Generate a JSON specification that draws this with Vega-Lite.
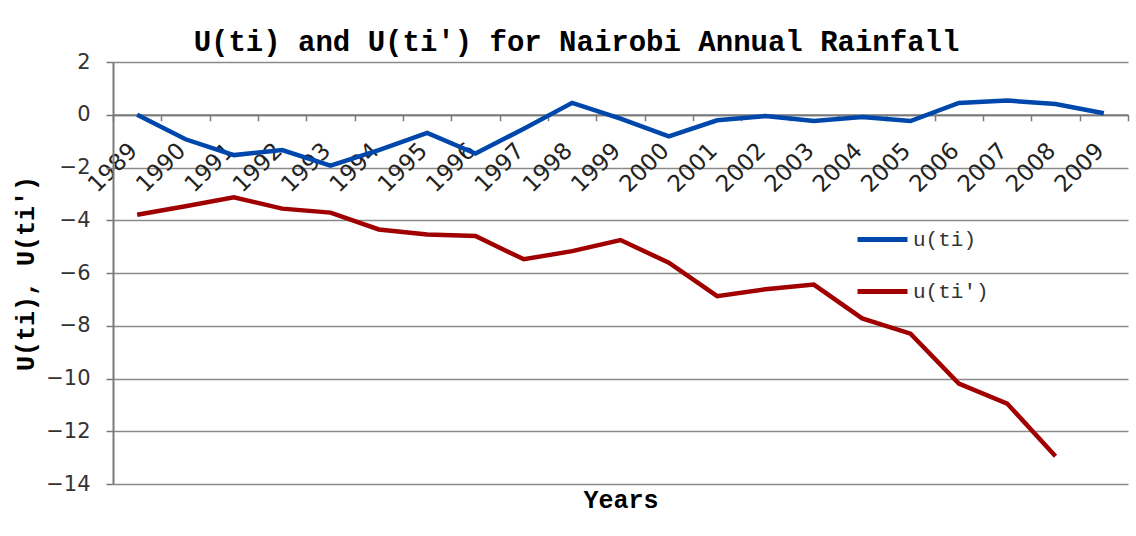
{
  "$schema": "https://vega.github.io/schema/vega-lite/v6.json",
  "width": 1015,
  "height": 422,
  "autosize": {"type": "none"},
  "padding": {"left": 113, "top": 62, "right": 8, "bottom": 52},
  "background": "white",
  "title": {
    "text": "U(ti) and U(ti') for Nairobi Annual Rainfall",
    "font": "Liberation Mono",
    "fontWeight": "bold",
    "fontSize": 29,
    "color": "#000000",
    "anchor": "middle",
    "dx": -44,
    "offset": -6
  },
  "data": {
    "values": [
      {"year": "1989", "series": "u(ti)", "value": 0.0},
      {"year": "1990", "series": "u(ti)", "value": -0.93},
      {"year": "1991", "series": "u(ti)", "value": -1.53},
      {"year": "1992", "series": "u(ti)", "value": -1.34},
      {"year": "1993", "series": "u(ti)", "value": -1.93},
      {"year": "1994", "series": "u(ti)", "value": -1.34},
      {"year": "1995", "series": "u(ti)", "value": -0.69},
      {"year": "1996", "series": "u(ti)", "value": -1.47},
      {"year": "1997", "series": "u(ti)", "value": -0.53},
      {"year": "1998", "series": "u(ti)", "value": 0.45},
      {"year": "1999", "series": "u(ti)", "value": -0.15},
      {"year": "2000", "series": "u(ti)", "value": -0.82},
      {"year": "2001", "series": "u(ti)", "value": -0.21},
      {"year": "2002", "series": "u(ti)", "value": -0.05},
      {"year": "2003", "series": "u(ti)", "value": -0.24},
      {"year": "2004", "series": "u(ti)", "value": -0.09},
      {"year": "2005", "series": "u(ti)", "value": -0.24},
      {"year": "2006", "series": "u(ti)", "value": 0.45},
      {"year": "2007", "series": "u(ti)", "value": 0.54},
      {"year": "2008", "series": "u(ti)", "value": 0.41},
      {"year": "2009", "series": "u(ti)", "value": 0.06},
      {"year": "1989", "series": "u(ti')", "value": -3.79},
      {"year": "1990", "series": "u(ti')", "value": -3.47},
      {"year": "1991", "series": "u(ti')", "value": -3.13},
      {"year": "1992", "series": "u(ti')", "value": -3.56},
      {"year": "1993", "series": "u(ti')", "value": -3.71},
      {"year": "1994", "series": "u(ti')", "value": -4.35},
      {"year": "1995", "series": "u(ti')", "value": -4.54},
      {"year": "1996", "series": "u(ti')", "value": -4.6},
      {"year": "1997", "series": "u(ti')", "value": -5.48},
      {"year": "1998", "series": "u(ti')", "value": -5.17},
      {"year": "1999", "series": "u(ti')", "value": -4.75},
      {"year": "2000", "series": "u(ti')", "value": -5.61},
      {"year": "2001", "series": "u(ti')", "value": -6.88},
      {"year": "2002", "series": "u(ti')", "value": -6.62},
      {"year": "2003", "series": "u(ti')", "value": -6.44},
      {"year": "2004", "series": "u(ti')", "value": -7.72},
      {"year": "2005", "series": "u(ti')", "value": -8.3},
      {"year": "2006", "series": "u(ti')", "value": -10.19},
      {"year": "2007", "series": "u(ti')", "value": -10.95},
      {"year": "2008", "series": "u(ti')", "value": -12.95}
    ]
  },
  "mark": {"type": "line", "strokeWidth": 4.5, "strokeJoin": "miter"},
  "encoding": {
    "x": {
      "field": "year",
      "type": "ordinal",
      "bandPosition": 0.5,
      "scale": {"type": "band", "paddingInner": 0, "paddingOuter": 0},
      "axis": {
        "title": "Years",
        "titleFont": "Liberation Mono",
        "titleFontWeight": "bold",
        "titleFontSize": 25,
        "titleColor": "#000000",
        "titleBaseline": "alphabetic",
        "titleY": 393,
        "offset": -369.25,
        "domainColor": "#7a7a7a",
        "domainWidth": 2,
        "tickBand": "extent",
        "tickColor": "#7a7a7a",
        "tickWidth": 1.5,
        "tickSize": 6,
        "labelAngle": -45,
        "labelAlign": "right",
        "labelBaseline": "middle",
        "labelPadding": 26,
        "labelOffset": -4,
        "labelFont": "DejaVu Sans",
        "labelFontSize": 23,
        "labelColor": "#222222",
        "labelOverlap": false,
        "grid": false
      }
    },
    "y": {
      "field": "value",
      "type": "quantitative",
      "scale": {"domain": [-14, 2], "nice": false, "zero": false},
      "axis": {
        "title": "U(ti), U(ti')",
        "titleFont": "Liberation Mono",
        "titleFontWeight": "bold",
        "titleFontSize": 25,
        "titleColor": "#000000",
        "titlePadding": 7,
        "values": [-14, -12, -10, -8, -6, -4, -2, 0, 2],
        "domainColor": "#7a7a7a",
        "domainWidth": 2,
        "tickColor": "#7a7a7a",
        "tickWidth": 1.5,
        "tickSize": 7,
        "labelPadding": 16,
        "labelFont": "DejaVu Sans",
        "labelFontSize": 21,
        "labelColor": "#333333",
        "grid": true,
        "gridColor": "#8a8a8a",
        "gridWidth": 1.6
      }
    },
    "color": {
      "field": "series",
      "type": "nominal",
      "scale": {"domain": ["u(ti)", "u(ti')"], "range": ["#0047AB", "#A00000"]},
      "legend": {
        "title": null,
        "orient": "none",
        "legendX": 742,
        "legendY": 150,
        "symbolType": "stroke",
        "symbolSize": 2500,
        "symbolStrokeWidth": 5,
        "rowPadding": 14,
        "labelFont": "Liberation Mono",
        "labelFontSize": 21,
        "labelColor": "#333333",
        "labelOffset": 3
      }
    }
  },
  "config": {
    "view": {"stroke": null}
  }
}
